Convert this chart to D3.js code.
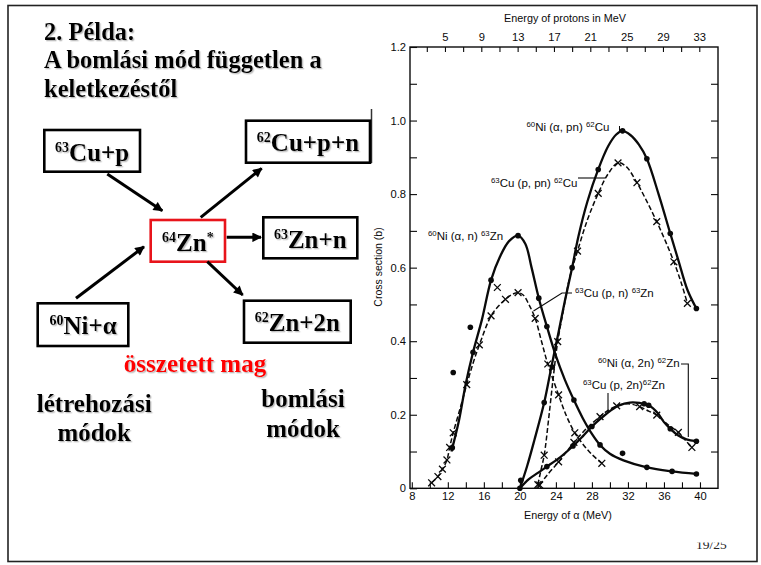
<!DOCTYPE html>
<html><head><meta charset="utf-8">
<script src="https://cdn.jsdelivr.net/npm/d3@7/dist/d3.min.js"></script>
<style>
html,body{margin:0;padding:0;background:#fff;}
svg{display:block;}
</style></head><body>
<svg id="c" width="761" height="565"></svg>
<script>
// ---------------- DATA ----------------
const titleLines = ["2. Példa:", "A bomlási mód független a", "keletkezéstől"];
const boxLabels = {
  cup:   ["^63", "Cu+p"],
  cupn:  ["^62", "Cu+p+n"],
  zn:    ["^64", "Zn", "^*"],
  znn:   ["^63", "Zn+n"],
  nia:   ["^60", "Ni+α"],
  zn2n:  ["^62", "Zn+2n"]
};
const compoundLabel = "összetett mag";
const formLabel = ["létrehozási", "módok"];
const decayLabel = ["bomlási", "módok"];
const pageLabel = "19/25";

const alphaLabelTicks = [8, 12, 16, 20, 24, 28, 32, 36, 40];
const protonLabelTicks = [5, 9, 13, 17, 21, 25, 29, 33];
const yLabelTicks = [0, 0.2, 0.4, 0.6, 0.8, 1.0, 1.2];
const xTitle = "Energy of α (MeV)";
const topTitle = "Energy of protons in MeV";
const yTitle = "Cross section (b)";

// 60Ni(α,n)63Zn  solid
const niAN = [[12.4,0.10],[13.2,0.18],[14.0,0.285],[14.8,0.37],[15.8,0.46],[16.8,0.566],[17.8,0.63],[18.8,0.672],[19.8,0.687],[20.6,0.665],[21.3,0.60],[22.1,0.517],[23.0,0.44],[24.0,0.36],[25.0,0.295],[26.0,0.24],[27.0,0.19],[28.0,0.148],[28.9,0.118],[30.0,0.094],[31.5,0.076],[34.1,0.057],[36.9,0.046],[39.6,0.039]];
const niAN_dots = [[12.5,0.11],[14.8,0.37],[16.8,0.566],[19.8,0.687],[22.1,0.517],[23.0,0.44],[26.0,0.24],[28.9,0.118],[34.1,0.057],[36.9,0.046],[39.6,0.039]];
// 63Cu(p,n)63Zn  dashed
const cuPN = [[10.2,0.015],[10.9,0.032],[11.4,0.052],[11.9,0.077],[12.2,0.111],[12.6,0.151],[13.4,0.22],[14.1,0.282],[14.8,0.34],[15.5,0.39],[16.8,0.469],[17.6,0.495],[18.4,0.514],[19.2,0.528],[19.8,0.532],[20.4,0.525],[21.0,0.50],[21.7,0.462],[22.4,0.40],[23.1,0.338],[24.3,0.254],[25.2,0.195],[26.1,0.151],[27.0,0.12],[28.0,0.092],[29.1,0.068]];
const cuPN_x = [[10.2,0.015],[10.9,0.032],[11.4,0.052],[11.9,0.077],[12.2,0.111],[12.6,0.151],[14.1,0.282],[15.5,0.39],[16.8,0.469],[18.4,0.514],[19.8,0.532],[21.7,0.462],[23.1,0.338],[24.3,0.254],[26.1,0.151],[29.1,0.068]];
// 60Ni(α,pn)62Cu  solid
const niAPN = [[20.0,0.0],[20.8,0.06],[21.6,0.13],[22.7,0.233],[23.5,0.33],[24.3,0.425],[25.0,0.51],[25.8,0.60],[26.5,0.685],[27.5,0.78],[28.7,0.867],[29.8,0.93],[30.7,0.962],[31.4,0.972],[32.3,0.96],[33.2,0.935],[34.1,0.896],[35.4,0.80],[36.7,0.693],[37.6,0.62],[38.6,0.54],[39.6,0.489]];
const niAPN_dots = [[20.0,0.0],[22.7,0.233],[23.6,0.33],[25.8,0.60],[28.7,0.867],[31.4,0.972],[34.1,0.896],[36.7,0.693],[39.6,0.489]];
// 63Cu(p,pn)62Cu  dashed
const cuPPN = [[22.0,0.01],[22.3,0.045],[22.7,0.09],[23.2,0.19],[23.7,0.30],[24.2,0.399],[24.8,0.48],[25.5,0.57],[26.4,0.645],[27.5,0.73],[28.7,0.802],[29.8,0.855],[30.9,0.885],[31.8,0.875],[33.0,0.831],[34.1,0.78],[35.2,0.725],[36.2,0.67],[37.1,0.616],[37.9,0.56],[38.6,0.503]];
const cuPPN_x = [[22.0,0.01],[22.7,0.09],[24.2,0.399],[26.4,0.645],[28.7,0.802],[30.9,0.885],[33.0,0.831],[35.2,0.725],[37.1,0.616],[38.6,0.503]];
// 60Ni(α,2n)62Zn  solid
const niA2N = [[20.0,0.0],[21.0,0.025],[22.0,0.042],[23.0,0.059],[24.5,0.085],[25.9,0.115],[27.0,0.142],[28.0,0.168],[29.0,0.19],[30.0,0.21],[31.0,0.225],[32.2,0.233],[33.3,0.232],[34.3,0.226],[35.3,0.205],[36.0,0.18],[36.7,0.162],[37.5,0.145],[38.5,0.133],[39.6,0.128]];
const niA2N_dots = [[20.1,0.022],[23.0,0.059],[25.9,0.115],[28.0,0.168],[33.8,0.23],[34.3,0.226],[36.7,0.162],[39.6,0.128]];
// 63Cu(p,2n)62Zn  dashed
const cuP2N = [[22.2,0.009],[23.0,0.035],[24.3,0.072],[25.2,0.10],[26.0,0.125],[27.5,0.165],[28.9,0.195],[29.8,0.212],[30.75,0.224],[32.0,0.23],[33.3,0.222],[34.3,0.21],[35.2,0.199],[36.5,0.172],[37.6,0.152],[38.4,0.13],[39.1,0.111]];
const cuP2N_x = [[22.2,0.009],[24.3,0.072],[26.0,0.125],[28.9,0.195],[30.75,0.224],[33.3,0.222],[35.2,0.199],[37.6,0.152],[39.1,0.111]];
// stray points
const strayDots = [[12.6,0.315],[14.5,0.438],[31.4,0.095]];
const strayX = [[17.5,0.546]];

const seriesLabels = {
  niAPN: ["^60","Ni (α, pn) ","^62","Cu"],
  cuPPN: ["^63","Cu (p, pn) ","^62","Cu"],
  niAN:  ["^60","Ni (α, n) ","^63","Zn"],
  cuPN:  ["^63","Cu (p, n) ","^63","Zn"],
  niA2N: ["^60","Ni (α, 2n) ","^62","Zn"],
  cuP2N: ["^63","Cu (p, 2n)","^62","Zn"]
};

// ---------------- DRAW ----------------
const svg = d3.select('#c');
const serif = "'Liberation Serif','Times New Roman',serif";
const sans = "'Liberation Sans',Arial,Helvetica,sans-serif";
const ink = '#0a0a0a';

const defs = svg.append('defs');
const f = defs.append('filter').attr('id','sh').attr('x','-5%').attr('y','-20%').attr('width','115%').attr('height','150%');
f.append('feDropShadow').attr('dx',1.3).attr('dy',1.3).attr('stdDeviation',0.5).attr('flood-color','#888').attr('flood-opacity',0.55);
defs.append('marker').attr('id','ah').attr('viewBox','0 0 10 10').attr('refX',9).attr('refY',5)
  .attr('markerWidth',3.6).attr('markerHeight',3.2).attr('orient','auto')
  .append('path').attr('d','M0,0L10,5L0,10Z').attr('fill','#000');
defs.append('clipPath').attr('id','pg').append('rect').attr('x',680).attr('y',542.5).attr('width',60).attr('height',20);

// slide frame
svg.append('rect').attr('x',8).attr('y',5.5).attr('width',749).attr('height',556)
  .attr('fill','none').attr('stroke','#222').attr('stroke-width',1.6);
svg.append('line').attr('x1',371.5).attr('x2',371.5).attr('y1',109).attr('y2',163).attr('stroke','#333').attr('stroke-width',1.5);

function rich(g, x, y, parts, o) {
  const t = g.append('text').attr('x', x).attr('y', y)
    .attr('font-family', o.font).attr('font-size', o.size)
    .attr('font-weight', o.weight || 'normal').attr('fill', o.fill || ink);
  if (o.anchor) t.attr('text-anchor', o.anchor);
  if (o.filter) t.attr('filter', o.filter);
  let up = false;
  parts.forEach(p => {
    const isSup = p[0] === '^';
    const s = t.append('tspan').text(isSup ? p.slice(1) : p);
    if (isSup) { s.attr('font-size', o.sup); if (!up) s.attr('dy', -o.rise); up = true; }
    else { if (up) s.attr('dy', o.rise); up = false; }
  });
  return t;
}

// ---- left diagram ----
const L = svg.append('g');
titleLines.forEach((t, i) => {
  L.append('text').attr('x', 44).attr('y', 40 + i * 28.3).text(t)
    .attr('font-family', serif).attr('font-size', 24.5).attr('font-weight', 'bold')
    .attr('fill', '#000').attr('filter', 'url(#sh)');
});
const boxes = [
  {k:'cup',  x:44.3, y:130,   w:95.7,  h:41.7, c:'#000'},
  {k:'cupn', x:246,  y:120.7, w:124,   h:42,   c:'#000'},
  {k:'zn',   x:150.7,y:220,   w:74.3,  h:41.7, c:'#e8141b'},
  {k:'znn',  x:263.3,y:217.3, w:94,    h:41,   c:'#000'},
  {k:'nia',  x:37.7, y:303.3, w:90.6,  h:42.7, c:'#000'},
  {k:'zn2n', x:244,  y:300.7, w:106.7, h:42,   c:'#000'}
];
boxes.forEach(b => {
  L.append('rect').attr('x', b.x).attr('y', b.y).attr('width', b.w).attr('height', b.h)
    .attr('fill', '#fff').attr('stroke', b.c).attr('stroke-width', 2.6);
  rich(L, b.x + b.w / 2, b.y + 30.5, boxLabels[b.k],
    {font: serif, size: 25, sup: 14, rise: 9, weight: 'bold', anchor: 'middle', fill: '#000', filter: 'url(#sh)'});
});
const arrows = [
  [107.3,174, 162.3,210.7],
  [76,298.3, 144,246.7],
  [200.7,217.3, 261.7,168.3],
  [226.7,237.3, 261,237.3],
  [207.3,261.7, 242.7,295]
];
arrows.forEach(a => {
  L.append('line').attr('x1',a[0]).attr('y1',a[1]).attr('x2',a[2]).attr('y2',a[3])
    .attr('stroke','#000').attr('stroke-width',3).attr('marker-end','url(#ah)');
});
L.append('text').attr('x',195).attr('y',371.7).attr('text-anchor','middle').text(compoundLabel)
  .attr('font-family',serif).attr('font-size',25).attr('font-weight','bold').attr('fill','#ff0000').attr('filter','url(#sh)');
formLabel.forEach((t,i) => L.append('text').attr('x',94.2).attr('y',411.7 + i*29).attr('text-anchor','middle').text(t)
  .attr('font-family',serif).attr('font-size',25).attr('font-weight','bold').attr('fill','#000').attr('filter','url(#sh)'));
decayLabel.forEach((t,i) => L.append('text').attr('x',303).attr('y',407 + i*29.7).attr('text-anchor','middle').text(t)
  .attr('font-family',serif).attr('font-size',25).attr('font-weight','bold').attr('fill','#000').attr('filter','url(#sh)'));
svg.append('text').attr('x',696).attr('y',548.5).text(pageLabel).attr('clip-path','url(#pg)')
  .attr('font-family',serif).attr('font-size',13.5).attr('fill','#222');

// ---- chart ----
const X0 = 410, X1 = 718, Y0 = 488.3, Y1 = 47;
const x = d3.scaleLinear().domain([7.8, 42]).range([X0, X1]);
const xp = d3.scaleLinear().domain([1.15, 35.06]).range([X0, X1]);
const y = d3.scaleLinear().domain([0, 1.2]).range([Y0, Y1]);
const C = svg.append('g');

function styleAxis(g) {
  g.select('.domain').remove();
  g.selectAll('.tick line').attr('stroke', ink).attr('stroke-width', 1.1);
  g.selectAll('.tick text').attr('font-family', sans).attr('font-size', 11.2).attr('fill', ink);
}
const xMinor = d3.range(8, 41, 2);
C.append('g').attr('transform', `translate(0,${Y0})`)
  .call(d3.axisBottom(x).tickValues(xMinor).tickSize(-6).tickPadding(4)
    .tickFormat(d => alphaLabelTicks.includes(d) ? d : ''))
  .call(styleAxis);
const pMinor = d3.range(3, 34, 2);
C.append('g').attr('transform', `translate(0,${Y1})`)
  .call(d3.axisTop(xp).tickValues(pMinor).tickSize(-5).tickPadding(6)
    .tickFormat(d => protonLabelTicks.includes(d) ? d : ''))
  .call(styleAxis);
const yMinor = d3.range(0, 13).map(i => i / 10);
C.append('g').attr('transform', `translate(${X0},0)`)
  .call(d3.axisLeft(y).tickValues(yMinor).tickSize(-7).tickPadding(4)
    .tickFormat(d => { const m = yLabelTicks.find(v => Math.abs(v - d) < 1e-9); return m === undefined ? '' : (m === 0 ? '0' : d3.format('.1f')(m)); }))
  .call(styleAxis);
C.append('g').attr('transform', `translate(${X1},0)`)
  .call(d3.axisRight(y).tickValues(yMinor.slice(1, 12)).tickSize(-7).tickFormat(''))
  .call(styleAxis);
C.append('rect').attr('x', X0).attr('y', Y1).attr('width', X1 - X0).attr('height', Y0 - Y1)
  .attr('fill', 'none').attr('stroke', ink).attr('stroke-width', 1.4);

// titles
C.append('text').attr('x', 565).attr('y', 22).attr('text-anchor', 'middle').text(topTitle)
  .attr('font-family', sans).attr('font-size', 10.8).attr('fill', ink);
C.append('text').attr('x', 568).attr('y', 519).attr('text-anchor', 'middle').text(xTitle)
  .attr('font-family', sans).attr('font-size', 10.8).attr('fill', ink);
C.append('text').attr('transform', 'translate(381.5,267) rotate(-90)').attr('text-anchor', 'middle').text(yTitle)
  .attr('font-family', sans).attr('font-size', 10.5).attr('fill', ink);

// curves
const line = d3.line().x(d => x(d[0])).y(d => y(d[1])).curve(d3.curveCatmullRom.alpha(0.5));
const curves = [
  {d: niAN, dash: null}, {d: cuPN, dash: '5,2.5'},
  {d: niAPN, dash: null}, {d: cuPPN, dash: '5,2.5'},
  {d: niA2N, dash: null}, {d: cuP2N, dash: '5,2.5'}
];
curves.forEach(c => {
  C.append('path').attr('d', line(c.d)).attr('fill', 'none').attr('stroke', ink)
    .attr('stroke-width', c.dash ? 1.5 : 2.3).attr('stroke-dasharray', c.dash)
    .attr('stroke-linejoin', 'round');
});
const dotSets = [niAN_dots, niAPN_dots, niA2N_dots, strayDots];
dotSets.forEach(s => C.append('g').selectAll('circle').data(s).join('circle')
  .attr('cx', d => x(d[0])).attr('cy', d => y(d[1])).attr('r', 2.8).attr('fill', ink));
const crossSets = [cuPN_x, cuPPN_x, cuP2N_x, strayX];
crossSets.forEach(s => C.append('g').selectAll('path').data(s).join('path')
  .attr('transform', d => `translate(${x(d[0])},${y(d[1])})`)
  .attr('d', 'M-3.4,-3.4L3.4,3.4M-3.4,3.4L3.4,-3.4').attr('stroke', ink).attr('stroke-width', 1.3).attr('fill', 'none'));

// series labels
const lo = {font: sans, size: 11.5, sup: 7.8, rise: 4};
rich(C, 526.5, 131, seriesLabels.niAPN, lo);
C.append('line').attr('x1', 619.5).attr('x2', 619.5).attr('y1', 126).attr('y2', 133).attr('stroke', ink).attr('stroke-width', 1);
rich(C, 491, 186.5, seriesLabels.cuPPN, lo);
C.append('line').attr('x1', 578).attr('x2', 605).attr('y1', 178).attr('y2', 178).attr('stroke', ink).attr('stroke-width', 1.1);
rich(C, 428, 240, seriesLabels.niAN, lo);
rich(C, 575, 297, seriesLabels.cuPN, lo);
C.append('path').attr('d', 'M572,293L562,293L533.5,311').attr('fill', 'none').attr('stroke', ink).attr('stroke-width', 1.1);
rich(C, 598, 367, seriesLabels.niA2N, lo);
C.append('path').attr('d', 'M681,364L688.3,364L688.3,437').attr('fill', 'none').attr('stroke', ink).attr('stroke-width', 1.1);
rich(C, 583, 388.5, seriesLabels.cuP2N, lo);
C.append('line').attr('x1', 608).attr('x2', 608).attr('y1', 393).attr('y2', 412).attr('stroke', ink).attr('stroke-width', 1.1);
</script>
</body></html>
